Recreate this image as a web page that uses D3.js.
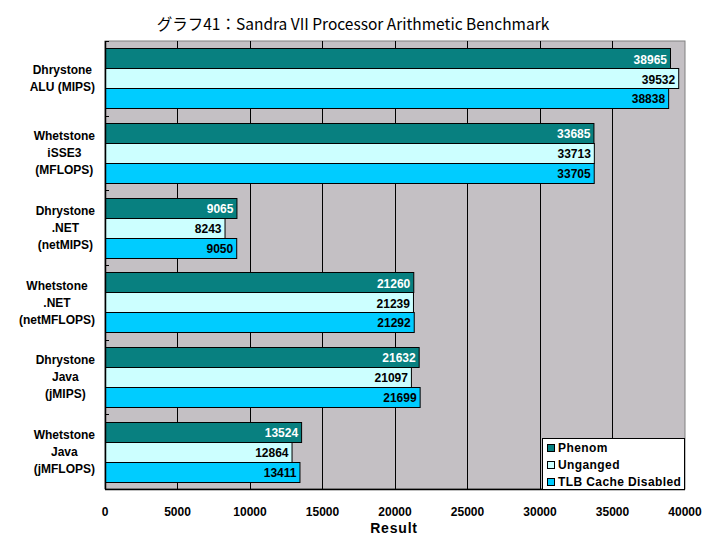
<!DOCTYPE html>
<meta charset="utf-8">
<script src="https://d3js.org/d3.v7.min.js"></script>
<style>
  body { margin: 0; background: #fff; }
  text { font-family: "Liberation Sans", Arial, sans-serif; }
</style>
<body>
<div id="my_dataviz"></div>
<script>
// categories (each label split into lines)
var categories = [
  ["Dhrystone", "ALU (MIPS)"],
  ["Whetstone", "iSSE3", "(MFLOPS)"],
  ["Dhrystone", ".NET", "(netMIPS)"],
  ["Whetstone", ".NET", "(netMFLOPS)"],
  ["Dhrystone", "Java", "(jMIPS)"],
  ["Whetstone", "Java", "(jMFLOPS)"]
];
var seriesNames = ["Phenom", "Unganged", "TLB Cache Disabled"];
var phenom   = [38965, 33685, 9065, 21260, 21632, 13524];
var unganged = [39532, 33713, 8243, 21239, 21097, 12864];
var tlbOff   = [38838, 33705, 9050, 21292, 21699, 13411];
var xTicks = [0, 5000, 10000, 15000, 20000, 25000, 30000, 35000, 40000];

var colors = ["#088080", "#CCFFFF", "#00CCFF"];
var labelColors = ["#ffffff", "#000000", "#000000"];
var series = [phenom, unganged, tlbOff];

var W = 706, H = 546;
var margin = {top: 41, right: 21, bottom: 57, left: 105};
var width = W - margin.left - margin.right,
    height = H - margin.top - margin.bottom;

var svg = d3.select("#my_dataviz").append("svg")
    .attr("width", W).attr("height", H);

// title
svg.append("text")
  .attr("x", 353).attr("y", 30)
  .attr("text-anchor", "middle")
  .style("font-family", "'Noto Sans CJK JP', 'Liberation Sans', sans-serif")
  .style("font-size", "15.5px")
  .text("グラフ41：Sandra VII Processor Arithmetic Benchmark");

var g = svg.append("g")
  .attr("transform", "translate(" + margin.left + "," + margin.top + ")");

var x = d3.scaleLinear().domain([0, 40000]).range([0, width]);
var y = d3.scaleBand().domain(d3.range(categories.length)).range([0, height])
  .paddingInner(0.2).paddingOuter(0.1);
var ySub = d3.scaleBand().domain(d3.range(series.length)).range([0, y.bandwidth()]);

// plot background
g.append("rect")
  .attr("width", width).attr("height", height)
  .attr("fill", "#C4C0C4").attr("stroke", "#808080");

// vertical grid lines
g.append("g").selectAll("line")
  .data(xTicks.slice(1, -1))
  .enter().append("line")
    .attr("x1", function(d) { return x(d); }).attr("x2", function(d) { return x(d); })
    .attr("y1", 0).attr("y2", height)
    .attr("stroke", "#000").attr("shape-rendering", "crispEdges");

// category ticks on left axis (between groups)
var step = y.step();
g.append("g").selectAll("line")
  .data(d3.range(categories.length + 1))
  .enter().append("line")
    .attr("x1", 0).attr("x2", 4)
    .attr("y1", function(d) { return Math.round(d * step) + 0.5; })
    .attr("y2", function(d) { return Math.round(d * step) + 0.5; })
    .attr("stroke", "#000");

// bars
series.forEach(function(vals, s) {
  var grp = g.append("g");
  grp.selectAll("rect")
    .data(vals)
    .enter().append("rect")
      .attr("x", 0.5)
      .attr("y", function(d, i) { return Math.round(y(i) + ySub(s)) + 0.5; })
      .attr("width", function(d) { return x(d); })
      .attr("height", Math.round(ySub.bandwidth()))
      .attr("fill", colors[s])
      .attr("stroke", "#000");
  grp.selectAll("text")
    .data(vals)
    .enter().append("text")
      .attr("x", function(d) { return x(d) - 3; })
      .attr("y", function(d, i) { return y(i) + ySub(s) + ySub.bandwidth() / 2 + 1; })
      .attr("dy", "0.35em")
      .attr("text-anchor", "end")
      .style("font-size", "12px").style("font-weight", "bold")
      .attr("fill", labelColors[s])
      .text(function(d) { return d; });
});

// axes lines
g.append("line").attr("x1", 0.5).attr("x2", 0.5).attr("y1", 0).attr("y2", height)
  .attr("stroke", "#000").attr("stroke-width", 1.5);
g.append("line").attr("x1", 0).attr("x2", width).attr("y1", height + 0.5).attr("y2", height + 0.5)
  .attr("stroke", "#000").attr("stroke-width", 1.5);

// x tick labels
g.append("g").selectAll("text")
  .data(xTicks)
  .enter().append("text")
    .attr("x", function(d) { return x(d); })
    .attr("y", height + 27)
    .attr("text-anchor", "middle")
    .style("font-size", "12px").style("font-weight", "bold")
    .text(function(d) { return d; });

// x axis title
svg.append("text")
  .attr("x", 394).attr("y", 533)
  .attr("text-anchor", "middle")
  .style("font-size", "14px").style("font-weight", "bold")
  .style("letter-spacing", "0.8px")
  .text("Result");

// category labels: block right-aligned, lines centered within block
categories.forEach(function(lines, i) {
  var t = svg.append("text")
    .style("font-size", "12px").style("font-weight", "bold")
    .attr("text-anchor", "middle");
  var lh = 17;
  var cy = margin.top + y(i) + y.bandwidth() / 2;
  var top = cy - (lines.length - 1) * lh / 2;
  lines.forEach(function(l, k) {
    t.append("tspan").attr("y", top + k * lh).attr("dy", "0.35em").text(l);
  });
  var maxW = 0;
  t.selectAll("tspan").each(function() { maxW = Math.max(maxW, this.getComputedTextLength()); });
  t.selectAll("tspan").attr("x", 95 - maxW / 2);
});

// legend
var lg = svg.append("g").attr("transform", "translate(542,438)");
lg.append("rect").attr("x", 0.5).attr("y", 0.5).attr("width", 142).attr("height", 51)
  .attr("fill", "#fff").attr("stroke", "#000");
seriesNames.forEach(function(n, i) {
  lg.append("rect").attr("x", 5.5).attr("y", 6.5 + i * 17).attr("width", 7).attr("height", 7)
    .attr("fill", colors[i]).attr("stroke", "#000");
  lg.append("text").attr("x", 16).attr("y", 10 + i * 17).attr("dy", "0.35em")
    .style("font-size", "12px").style("font-weight", "bold")
    .style("letter-spacing", "0.4px").text(n);
});
</script>
</body>
